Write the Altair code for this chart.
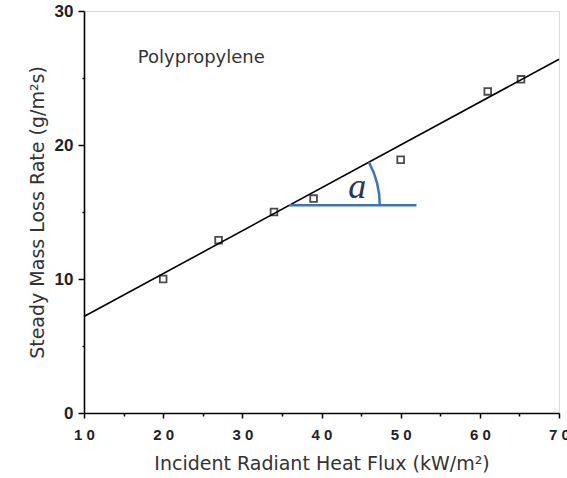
import altair as alt
import pandas as pd

# Measured points (open squares)
flux = [20, 27, 34, 39, 50, 61, 65.2]
mlr = [10.0, 12.9, 15.0, 16.0, 18.9, 24.0, 24.9]

# Fitted line end points
fit_x = [10, 70]
fit_y = [7.2, 26.4]

# Blue angle annotation
ann_x = [35.9, 52.0]
ann_y = [15.5, 15.5]
ann_label = ["a"]
ann_label_x = [44.5]
ann_label_y = [16.9]

pts = pd.DataFrame({"x": flux, "y": mlr})
fit = pd.DataFrame({"x": fit_x, "y": fit_y})
ann = pd.DataFrame({"x": ann_x, "y": ann_y})
lab = pd.DataFrame({"x": ann_label_x, "y": ann_label_y, "t": ann_label})
arc_df = pd.DataFrame({"x": [ann_x[0]], "y": [ann_y[0]], "t0": [1.075], "t1": [1.5708]})
txt = pd.DataFrame({"x": [16.8], "y": [26.5], "t": ["Polypropylene"]})

xscale = alt.Scale(domain=[10, 70], nice=False, zero=False)
yscale = alt.Scale(domain=[0, 30], nice=False)

xaxis = alt.Axis(
    title="Incident Radiant Heat Flux (kW/m²)",
    values=list(range(10, 71, 5)),
    labelExpr="datum.value % 10 == 0 ? join(split(datum.label, ''), ' ') : ''",
    tickSize={"condition": {"test": "datum.value % 10 != 0", "value": 3}, "value": 5},
    grid=False, domainColor="black", domainWidth=1.6, tickColor="black", tickWidth=1.5,
    labelFont="Liberation Sans", labelFontSize=15, labelFontWeight="bold", labelColor="#222",
    labelPadding=9, titleFont="DejaVu Sans", titleFontSize=19, titleFontWeight="normal",
    titleColor="#333", titlePadding=12, labelFlush=False,
)
yaxis = alt.Axis(
    title="Steady Mass Loss Rate (g/m²s)",
    values=[0, 5, 10, 15, 20, 25, 30],
    labelExpr="datum.value % 10 == 0 ? datum.label : ''",
    tickSize={"condition": {"test": "datum.value % 10 != 0", "value": 2}, "value": 6},
    grid=False, domainColor="black", domainWidth=1.6, tickColor="black", tickWidth=1.5,
    labelFont="Liberation Sans", labelFontSize=17, labelFontWeight="bold", labelColor="#222",
    labelPadding=5, titleFont="DejaVu Sans", titleFontSize=19, titleFontWeight="normal",
    titleColor="#333", titlePadding=7, labelFlush=False,
)

X = lambda: alt.X("x:Q", scale=xscale, axis=xaxis)
Y = lambda: alt.Y("y:Q", scale=yscale, axis=yaxis)

line = alt.Chart(fit).mark_line(color="black", strokeWidth=1.6).encode(x=X(), y=Y())
points = alt.Chart(pts).mark_point(shape="square", filled=False, color="black",
                                   size=45, strokeWidth=1.8).encode(x=X(), y=Y())
blue = alt.Chart(ann).mark_line(color="#3f73bd", strokeWidth=2.5).encode(x=X(), y=Y())
arc = alt.Chart(arc_df).mark_arc(color="#3f73bd", radius=92, radius2=89.5).encode(
    x=X(), y=Y(), theta=alt.Theta("t0:Q", scale=None), theta2="t1:Q")
alabel = alt.Chart(lab).mark_text(font="Liberation Serif", fontStyle="italic", fontSize=36,
                                  color="#1f3864", baseline="middle", align="center").encode(
    x=X(), y=Y(), text="t:N")
title = alt.Chart(txt).mark_text(font="DejaVu Sans", fontSize=18, color="#333",
                                 align="left", baseline="middle").encode(x=X(), y=Y(), text="t:N")

chart = alt.layer(line, points, blue, arc, alabel, title).properties(
    width=475, height=402,
    autosize=alt.AutoSizeParams(type="none"),
    padding={"left": 84, "top": 11, "right": 8, "bottom": 65},
).configure_view(stroke="black", strokeWidth=1.6).configure(background="white")

chart.save("out.html", embed_options={"renderer": "svg", "actions": False})
